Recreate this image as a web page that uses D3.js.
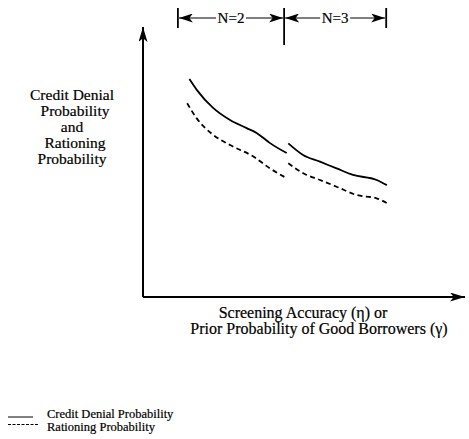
<!DOCTYPE html>
<html>
<head>
<meta charset="utf-8">
<script src="https://cdn.jsdelivr.net/npm/d3@7"></script>
<style>
  body { margin: 0; background: #fff; }
  text { font-family: "Liberation Serif", "Times New Roman", serif; fill: #000; stroke: #000; stroke-width: 0.2; }
</style>
</head>
<body>
<svg id="canvas" width="469" height="439"></svg>
<script>
"use strict";

// curve values, arbitrary units (0..100 on both axes)
const denialN2X = [14.5, 16.8, 21.9, 27.2, 32.4, 35.5, 39.7, 44.9];
const denialN2Y = [81.0, 77.0, 70.3, 65.8, 62.8, 61.0, 57.2, 53.5];
const denialN3X = [45.4, 50.0, 55.3, 60.5, 65.6, 73.0, 76.2];
const denialN3Y = [57.1, 52.8, 50.3, 47.8, 45.4, 43.5, 41.6];
const rationN2X = [13.8, 16.8, 22.0, 27.2, 34.5, 39.7, 44.4];
const rationN2Y = [72.0, 66.4, 60.2, 56.5, 52.2, 47.8, 44.5];
const rationN3X = [45.4, 50.1, 55.3, 60.5, 66.8, 73.0, 76.7];
const rationN3Y = [49.7, 46.0, 43.5, 41.0, 37.9, 36.7, 34.6];

const regimeBounds = [10.9, 44.1, 76.0];
const regimeLabels = ["N=2", "N=3"];

const yLabelLines = ["Credit Denial", "Probability", "and", "Rationing", "Probability"];
const xLabelLines = ["Screening Accuracy (\u03b7) or", "Prior Probability of Good Borrowers (\u03b3)"];
const legendLabels = ["Credit Denial Probability", "Rationing Probability"];

const svg = d3.select("#canvas");

const x = d3.scaleLinear().domain([0, 100]).range([143, 463]);
const y = d3.scaleLinear().domain([0, 100]).range([297, 28]);

const defs = svg.append("defs");
const addMarker = (id, w, l) => {
  defs.append("marker")
    .attr("id", id)
    .attr("viewBox", `0 ${-w / 2} ${l} ${w}`)
    .attr("refX", l)
    .attr("refY", 0)
    .attr("markerWidth", l)
    .attr("markerHeight", w)
    .attr("markerUnits", "userSpaceOnUse")
    .attr("orient", "auto-start-reverse")
    .append("path")
    .attr("d", `M0,${-w / 2}L${l},0L0,${w / 2}L${l * 0.25},0Z`)
    .attr("fill", "#000");
};
addMarker("axisArrow", 9, 15);
addMarker("bracketArrow", 9, 14);

// axes
svg.append("path")
  .attr("d", `M${x(0)},${y(0)}V${y(100) - 1}`)
  .attr("stroke", "#000").attr("stroke-width", 2).attr("fill", "none")
  .attr("marker-end", "url(#axisArrow)");
svg.append("path")
  .attr("d", `M${x(0)},${y(0)}H${x(100) + 2}`)
  .attr("stroke", "#000").attr("stroke-width", 2).attr("fill", "none")
  .attr("marker-end", "url(#axisArrow)");

// curves
const line = d3.line().x((d) => x(d[0])).y((d) => y(d[1])).curve(d3.curveMonotoneX);
const series = [
  { xs: denialN2X, ys: denialN2Y, dash: null },
  { xs: denialN3X, ys: denialN3Y, dash: null },
  { xs: rationN2X, ys: rationN2Y, dash: "5,3.5" },
  { xs: rationN3X, ys: rationN3Y, dash: "5,3.5" },
];
series.forEach((s) => {
  svg.append("path")
    .datum(s.xs.map((v, i) => [v, s.ys[i]]))
    .attr("d", line)
    .attr("fill", "none")
    .attr("stroke", "#000")
    .attr("stroke-width", 1.8)
    .attr("stroke-dasharray", s.dash);
});

// regime bracket on top
const bracketY = 18;
regimeBounds.forEach((b, i) => {
  svg.append("line")
    .attr("x1", x(b)).attr("x2", x(b))
    .attr("y1", 8).attr("y2", i === 1 ? 45 : 28)
    .attr("stroke", "#000").attr("stroke-width", 1.8);
});
regimeLabels.forEach((lab, i) => {
  const x0 = x(regimeBounds[i]);
  const x1 = x(regimeBounds[i + 1]);
  const mid = (x0 + x1) / 2;
  svg.append("path")
    .attr("d", `M${mid - 15},${bracketY}H${x0 + 1}`)
    .attr("stroke", "#000").attr("stroke-width", 1.2)
    .attr("marker-end", "url(#bracketArrow)");
  svg.append("path")
    .attr("d", `M${mid + 15},${bracketY}H${x1 - 1}`)
    .attr("stroke", "#000").attr("stroke-width", 1.2)
    .attr("marker-end", "url(#bracketArrow)");
  svg.append("text")
    .attr("x", mid).attr("y", bracketY + 5)
    .attr("text-anchor", "middle")
    .attr("font-size", 15)
    .text(lab);
});

// y label
svg.append("g").selectAll("text")
  .data(yLabelLines)
  .enter()
  .append("text")
  .attr("x", (d, i) => (i % 2 === 1 ? 75 : 72))
  .attr("y", (d, i) => 100 + i * 16)
  .attr("text-anchor", "middle")
  .attr("font-size", 15.5)
  .text((d) => d);

// x label
svg.append("g").selectAll("text")
  .data(xLabelLines)
  .enter()
  .append("text")
  .attr("x", (d, i) => (i === 0 ? 303 : 319))
  .attr("y", (d, i) => 318 + i * 16)
  .attr("text-anchor", "middle")
  .attr("font-size", 16)
  .text((d) => d);

// legend
const legend = svg.append("g");
legendLabels.forEach((lab, i) => {
  const ly = 418 + i * 12.5;
  legend.append("line")
    .attr("x1", 8).attr("x2", i === 0 ? 33 : 38)
    .attr("y1", i === 0 ? ly - 1 : ly - 6).attr("y2", i === 0 ? ly - 1 : ly - 6)
    .attr("stroke", "#000").attr("stroke-width", 1)
    .attr("stroke-dasharray", i === 0 ? null : "3,1.5");
  legend.append("text")
    .attr("x", 47).attr("y", ly)
    .attr("font-size", 12.5)
    .text(lab);
});
</script>
</body>
</html>
